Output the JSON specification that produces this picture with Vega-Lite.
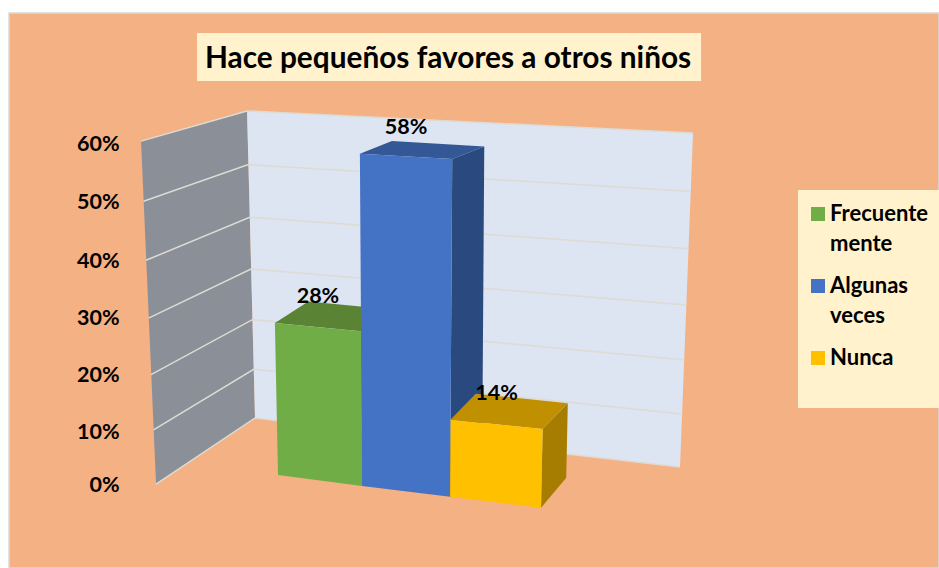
{
"$schema":"https://vega.github.io/schema/vega-lite/v6.json",
"width":930,"height":555,
"autosize":{"type":"none"},
"padding":{"left":9,"top":13,"right":0,"bottom":0},
"background":"#ffffff",
"view":{"fill":"#F4B183","stroke":"#d9d9d9","strokeWidth":1.5},
"title":{"text":"Hace pequeños favores a otros niños","font":"Lato","fontWeight":"bold","fontSize":29.8,"color":"#000000","anchor":"start","dx":196,"offset":-91,"baseline":"bottom"},
"datasets":{
"barras":[{"categoria":"Frecuentemente","valor":0.28},{"categoria":"Algunas veces","valor":0.58},{"categoria":"Nunca","valor":0.14}],
"marcas":[{"marca":0},{"marca":0.1},{"marca":0.2},{"marca":0.3},{"marca":0.4},{"marca":0.5},{"marca":0.6}],
"paredes":[{"pared":"lateral"},{"pared":"fondo"}],
"cajas":[{"caja":"titulo"},{"caja":"leyenda"}]
},
"data":{"name":"barras"},
"encoding":{
"x":{"field":"px","type":"quantitative","axis":null,"scale":{"domain":[-3.057,7.511],"nice":false,"zero":false}},
"y":{"field":"py","type":"quantitative","scale":{"domain":[-0.1467,0.8286],"nice":false,"zero":false},
"axis":{"title":null,"values":[0,0.1,0.2,0.3,0.4,0.5,0.6],"format":".0%","grid":false,"domain":false,"ticks":false,"labelPadding":0,"offset":-110,"labelFont":"Lato","labelFontWeight":"bold","labelFontSize":21.5,"labelColor":"#000000","zindex":1,
"labelOffset":{"condition":[{"test":"datum.value<0.05||datum.value>0.55","value":1},{"test":"datum.value>0.45","value":3}],"value":5}}}
},
"layer":[
{"data":{"name":"paredes"},
"transform":[
{"calculate":"datum.pared=='lateral'?[{s:0,m:0,i:0},{s:1,m:0,i:1},{s:1,m:0.6,i:2},{s:0,m:0.6,i:3}]:[{s:1,m:0,i:0},{s:2,m:0,i:1},{s:2,m:0.6,i:2},{s:1,m:0.6,i:3}]","as":"c"},
{"flatten":["c"]},
{"calculate":"[-1.386-0.284*datum.c.m,-0.2614-0.151*datum.c.m,4.568+0.247*datum.c.m][datum.c.s]","as":"px"},
{"calculate":"[0.0009+0.94*datum.c.m+0.107*datum.c.m*datum.c.m,0.1169+0.8466*datum.c.m+0.0879*datum.c.m*datum.c.m,0.0308+0.9197*datum.c.m+0.0977*datum.c.m*datum.c.m][datum.c.s]","as":"py"},
{"calculate":"datum.c.i","as":"i"}
],
"mark":{"type":"line","strokeWidth":0},
"encoding":{"order":{"field":"i"},"detail":{"field":"pared"},
"fill":{"field":"pared","type":"nominal","legend":null,"scale":{"domain":["lateral","fondo"],"range":["#8A8F98","#DDE4F2"]}}}
},
{"data":{"name":"marcas"},
"transform":[
{"calculate":"[{s:0,i:0},{s:1,i:1},{s:2,i:2}]","as":"c"},
{"flatten":["c"]},
{"calculate":"[-1.386-0.284*datum.marca,-0.2614-0.151*datum.marca,4.568+0.247*datum.marca][datum.c.s]","as":"px"},
{"calculate":"[0.0009+0.94*datum.marca+0.107*datum.marca*datum.marca,0.1169+0.8466*datum.marca+0.0879*datum.marca*datum.marca,0.0308+0.9197*datum.marca+0.0977*datum.marca*datum.marca][datum.c.s]","as":"py"},
{"calculate":"datum.c.i","as":"i"}
],
"mark":{"type":"line","stroke":"#DEDBD3","strokeWidth":1.5},
"encoding":{"order":{"field":"i"},"detail":{"field":"marca"}}
},
{"transform":[
{"calculate":"[{f:'lado',i:0,e:1,t:0,d:0},{f:'lado',i:1,e:1,t:0,d:1},{f:'lado',i:2,e:1,t:1,d:1},{f:'lado',i:3,e:1,t:1,d:0},{f:'tapa',i:0,e:0,t:1,d:0},{f:'tapa',i:1,e:1,t:1,d:0},{f:'tapa',i:2,e:1,t:1,d:1},{f:'tapa',i:3,e:0,t:1,d:1},{f:'frente',i:0,e:0,t:0,d:0},{f:'frente',i:1,e:1,t:0,d:0},{f:'frente',i:2,e:1,t:1,d:0},{f:'frente',i:3,e:0,t:1,d:0}]","as":"c"},
{"flatten":["c"]},
{"calculate":"indexof(['Frecuentemente','Algunas veces','Nunca'],datum.categoria)","as":"pos"},
{"calculate":"datum.pos+datum.c.e","as":"borde"},
{"calculate":"[0,0.955,1.955,2.989][datum.borde]+datum.c.t*0.085*datum.valor*(datum.borde-1.5)+datum.c.d*[0.381,0.364,0.286][datum.pos]","as":"px"},
{"calculate":"0.0167-0.0192*datum.borde+datum.c.t*datum.valor*(0.92+0.12*datum.valor+0.017*datum.borde)+datum.c.d*0.0527*(1-datum.c.t*datum.valor)","as":"py"},
{"calculate":"datum.c.f","as":"cara"},
{"calculate":"datum.c.i","as":"i"}
],
"layer":[
{"transform":[{"filter":"datum.cara=='lado'"}],"mark":{"type":"line","strokeWidth":0},
"encoding":{"order":{"field":"i"},"detail":{"field":"categoria"},
"fill":{"field":"categoria","type":"nominal","legend":null,"scale":{"domain":["Frecuentemente","Algunas veces","Nunca"],"range":["#4C7030","#2A4A7F","#A67D00"]}}}},
{"transform":[{"filter":"datum.cara=='tapa'"}],"mark":{"type":"line","strokeWidth":0},
"encoding":{"order":{"field":"i"},"detail":{"field":"categoria"},
"fill":{"field":"categoria","type":"nominal","legend":null,"scale":{"domain":["Frecuentemente","Algunas veces","Nunca"],"range":["#5A8434","#335895","#C09000"]}}}},
{"transform":[{"filter":"datum.cara=='frente'"}],"mark":{"type":"line","strokeWidth":0},
"encoding":{"order":{"field":"i"},"detail":{"field":"categoria"},
"fill":{"field":"categoria","type":"nominal","scale":{"domain":["Frecuentemente","Algunas veces","Nunca"],"range":["#70AD47","#4472C4","#FFC000"]},
"legend":{"title":null,"orient":"none","legendX":798,"legendY":190,"symbolType":"square","symbolSize":196,"symbolStrokeWidth":0,"labelFont":"Lato","labelFontWeight":"bold","labelFontSize":22,"labelColor":"#000000","labelOffset":1,"rowPadding":20,"labelLimit":200,
"labelExpr":"datum.label=='Frecuentemente'?['Frecuente','mente']:datum.label=='Algunas veces'?['Algunas','veces']:datum.label",
"encoding":{"labels":{"lineHeight":{"value":30}}}}}}}
],
"resolve":{"scale":{"fill":"independent"}}
},
{"transform":[
{"calculate":"indexof(['Frecuentemente','Algunas veces','Nunca'],datum.categoria)","as":"pos"},
{"calculate":"([0,0.955,1.955,2.989][datum.pos]+[0,0.955,1.955,2.989][datum.pos+1])/2+0.085*datum.valor*(datum.pos-1)","as":"px"},
{"calculate":"0.0167-0.0192*datum.pos+datum.valor*(0.92+0.12*datum.valor+0.017*datum.pos)+0.0457","as":"py"}
],
"mark":{"type":"text","font":"Lato","fontWeight":"bold","fontSize":21.5,"color":"#000000","align":"center","baseline":"middle"},
"encoding":{"text":{"field":"valor","type":"quantitative","format":".0%"}}
},
{"data":{"name":"cajas"},
"transform":[
{"calculate":"datum.caja=='titulo'?-0.9205:5.909","as":"px"},
{"calculate":"datum.caja=='titulo'?4.807:7.511","as":"px2"},
{"calculate":"datum.caja=='titulo'?0.7935:0.5176","as":"py"},
{"calculate":"datum.caja=='titulo'?0.7091:0.1344","as":"py2"}
],
"mark":{"type":"rect","fill":"#FFF2CC"},
"encoding":{"x2":{"field":"px2"},"y2":{"field":"py2"}}}
],
"config":{"legend":{"zindex":1}}
}
